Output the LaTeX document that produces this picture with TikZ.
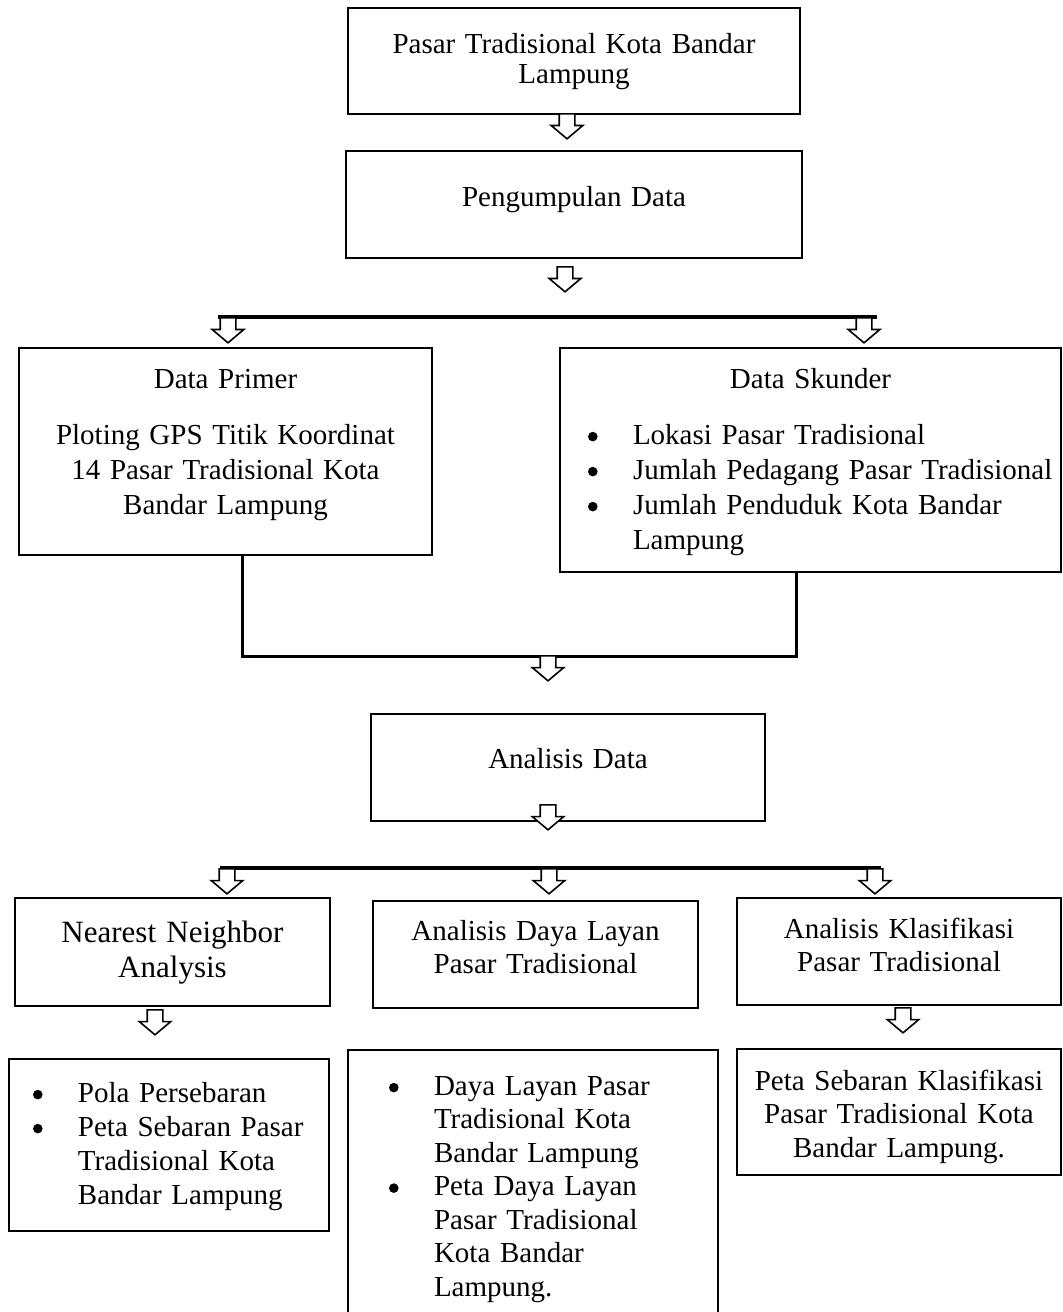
\documentclass[tikz,border=0pt]{standalone}
\usepackage{fontspec}
\setmainfont{Liberation Serif}
\usetikzlibrary{shapes.arrows}
\newcommand{\bul}{\makebox[23pt][l]{\hspace{0.5pt}\raisebox{1.3pt}{\tikz\fill (0,0) circle (2.4pt);}}}
\newcommand{\hang}{\hspace*{23pt}}

\begin{document}
\begin{tikzpicture}[x=0.5pt, y=-0.5pt,
  box/.style={rectangle, draw=black, line width=1pt, align=center, inner sep=0pt,
    font=\fontsize{14.5}{16.75}\selectfont},
  listbox/.style={box, align=left},
  darr/.style={single arrow, draw=black, fill=white, line width=0.8pt, shape border rotate=270,
    minimum height=12.5pt, inner sep=3.5pt, single arrow head extend=4pt,
    single arrow tip angle=100, anchor=tail},
  bus/.style={draw=black, line width=1.8pt}
]
\useasboundingbox (0,0) rectangle (1063,1312);

% top
\node[box, text width=226pt, text height=22.5pt, text depth=30.5pt,
  font=\fontsize{14.5}{15}\selectfont] (pasar) at (574,61) {Pasar Tradisional Kota Bandar\\Lampung};
\node[box, text width=228pt, text height=27.5pt, text depth=26pt] (peng) at (574,204.5) {Pengumpulan Data};

% data
\coordinate (bus1l) at (218,317);
\coordinate (bus1r) at (877,317);
\draw[bus] (bus1l) -- (bus1r);

\node[box, text width=206.5pt, text height=20pt, text depth=83.5pt,
  font=\fontsize{14.5}{17.5}\selectfont] (prim) at (225.5,451.5)
  {Data Primer\\[10.5pt]Ploting GPS Titik Koordinat\\14 Pasar Tradisional Kota\\Bandar Lampung};
\node[listbox, text width=223.5pt, inner xsep=13.5pt, text height=20pt, text depth=92pt,
  font=\fontsize{14.5}{17.5}\selectfont] (skun) at (810.5,460)
  {\makebox[\linewidth]{Data Skunder}\\[10.5pt]\bul Lokasi Pasar Tradisional\\
   \bul\mbox{Jumlah Pedagang Pasar Tradisional}\\\bul Jumlah Penduduk Kota Bandar\\\hang Lampung};

\draw[bus, line width=1.5pt] ([xshift=8.25pt]prim.south) -- ++(0,100) -| ([xshift=-7pt]skun.south);

% analysis
\node[box, text width=197pt, text height=27pt, text depth=26.5pt] (anl) at (568,767.5) {Analisis Data};

\coordinate (bus2l) at (220,868);
\coordinate (bus2r) at (881,868);
\draw[bus] (bus2l) -- (bus2r);

\node[box, text width=157.5pt, text height=22pt, text depth=32pt,
  font=\fontsize{15.5}{17.5}\selectfont] (nna) at (172.5,952) {Nearest Neighbor\\Analysis};
\node[box, text width=162.5pt, text height=19.5pt, text depth=34pt] (adl) at (535.5,954.5)
  {Analisis Daya Layan\\Pasar Tradisional};
\node[box, text width=162pt, text height=20pt, text depth=33.5pt] (akp) at (899,951.5)
  {Analisis Klasifikasi\\Pasar Tradisional};

% results
\node[listbox, text width=137pt, inner xsep=11.5pt, text height=21.5pt, text depth=64.5pt,
  font=\fontsize{14.5}{17}\selectfont] (hnna) at (169,1145)
  {\bul Pola Persebaran\\\bul Peta Sebaran Pasar\\\hang Tradisional Kota\\\hang Bandar Lampung};
\node[listbox, text width=145pt, inner xsep=20pt, text height=22.5pt, text depth=111.5pt] (hadl) at (533,1184)
  {\bul Daya Layan Pasar\\\hang Tradisional Kota\\\hang Bandar Lampung\\\bul Peta Daya Layan\\
   \hang Pasar Tradisional\\\hang Kota Bandar\\\hang Lampung.};
\node[box, text width=162pt, text height=20.5pt, text depth=42.5pt] (hakp) at (899,1112)
  {Peta Sebaran Klasifikasi\\Pasar Tradisional Kota\\Bandar Lampung.};

% arrows
\node[darr] (ar1) at (567,113) {};
\node[darr] (ar2) at (565,266) {};
\node[darr] (ar3) at (228,317) {};
\node[darr] (ar4) at (864,317) {};
\node[darr] (ar5) at (548,655) {};
\node[darr] (ar6) at (548,804) {};
\node[darr] (ar7) at (227,868) {};
\node[darr] (ar8) at (549,868) {};
\node[darr] (ar9) at (875,868) {};
\node[darr] (ar10) at (155,1009) {};
\node[darr] (ar11) at (903,1007) {};

\end{tikzpicture}
\end{document}
